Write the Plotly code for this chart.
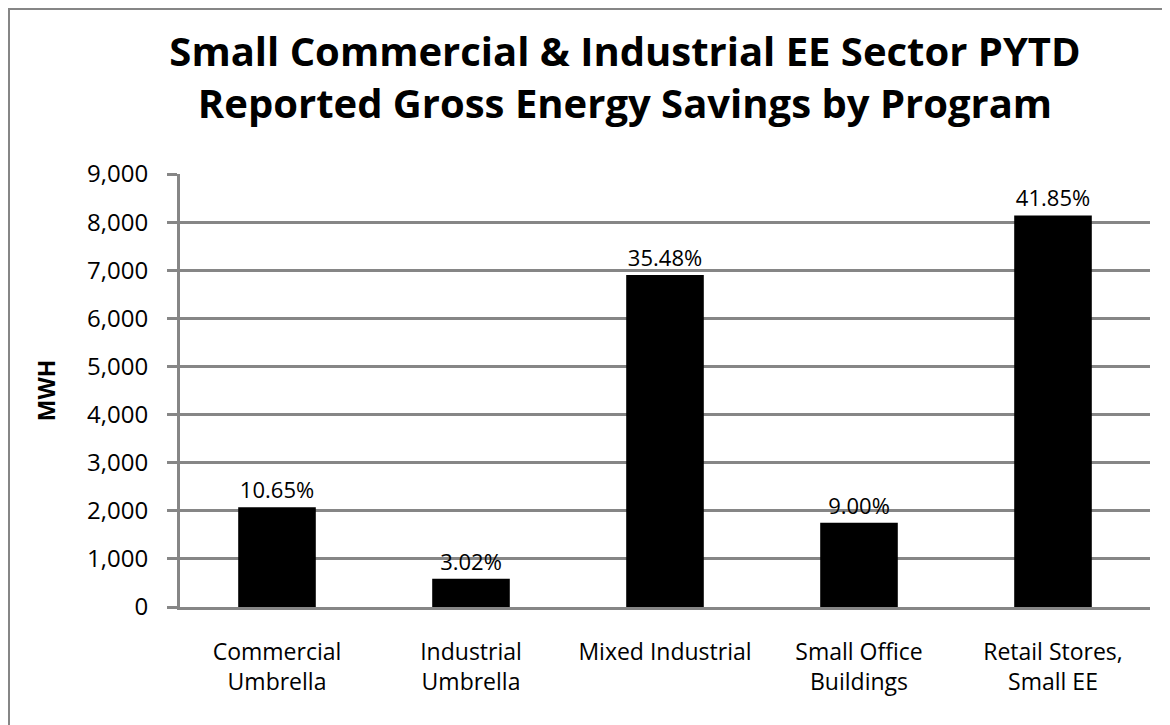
import plotly.graph_objects as go

categories = ["Commercial<br>Umbrella", "Industrial<br>Umbrella", "Mixed Industrial",
              "Small Office<br>Buildings", "Retail Stores,<br>Small EE"]
mwh = [2072, 587, 6900, 1750, 8140]
share_labels = ["10.65%", "3.02%", "35.48%", "9.00%", "41.85%"]
y_ticks = [0, 1000, 2000, 3000, 4000, 5000, 6000, 7000, 8000, 9000]
y_tick_text = ["0", "1,000", "2,000", "3,000", "4,000", "5,000", "6,000", "7,000", "8,000", "9,000"]

# page body has an 8px margin, so the figure is sized to fit the window
W, H = 1162, 717
L, R, T, B = 172, 20, 166, 118
pw, ph = W - L - R, H - T - B

FONT = "'Open Sans', Lato, sans-serif"
GREY = "#868686"

fig = go.Figure(go.Bar(
    x=categories, y=mwh, text=share_labels, textposition="outside",
    textfont=dict(size=22, color="black", family=FONT),
    marker=dict(color="black", line=dict(width=0)),
    width=0.40, cliponaxis=False,
))

fig.update_layout(
    width=W, height=H,
    margin=dict(l=L, r=R, t=T, b=B),
    paper_bgcolor="white", plot_bgcolor="white",
    showlegend=False,
    title=dict(
        text="Small Commercial & Industrial EE Sector PYTD<br>Reported Gross Energy Savings by Program",
        x=617 / W, xanchor="center", y=1 - 58 / H, yanchor="middle",
        font=dict(size=40, family=FONT, color="black", weight="bold"),
    ),
    font=dict(family=FONT, color="black"),
)
fig.update_yaxes(
    range=[0, 9000], tickvals=y_ticks, ticktext=y_tick_text,
    showgrid=True, gridcolor=GREY, gridwidth=3,
    showline=True, linecolor=GREY, linewidth=3,
    ticks="outside", ticklen=10, tickcolor=GREY, tickwidth=3,
    ticklabelstandoff=14,
    tickfont=dict(size=24, family=FONT, color="black"),
    title=dict(text="<b>MWH</b>", font=dict(size=23, family=FONT, color="black"), standoff=26),
    zeroline=False,
)
fig.update_xaxes(
    showline=True, linecolor=GREY, linewidth=3,
    ticks="", ticklabelstandoff=22,
    tickfont=dict(size=23, family=FONT, color="black"),
    showgrid=False,
)
fig.add_shape(
    type="rect", xref="paper", yref="paper",
    x0=-(L - 1) / pw, x1=1 + (R + 20) / pw, y0=-(B + 20) / ph, y1=1 + (T - 1) / ph,
    line=dict(color=GREY, width=2), fillcolor="rgba(0,0,0,0)", layer="below",
)

fig.write_html("out.html")
